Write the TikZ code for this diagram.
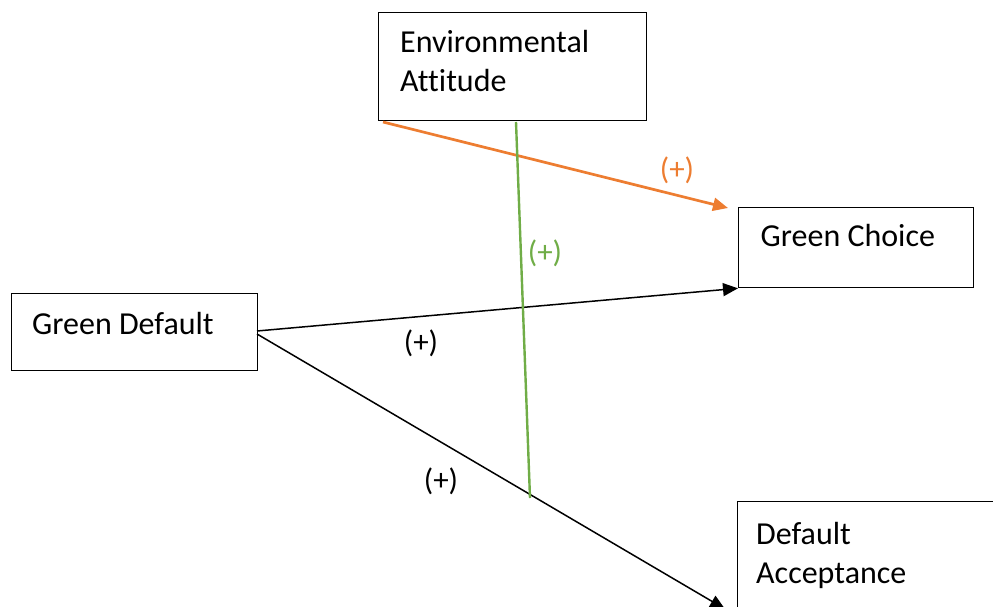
\documentclass[tikz,border=0pt]{standalone}
\usepackage{fontspec}
\setmainfont{Carlito}[Ligatures=CommonOff]
\usetikzlibrary{arrows.meta}
\definecolor{orng}{HTML}{ED7D31}
\definecolor{grn}{HTML}{70AD47}
\begin{document}
\begin{tikzpicture}[x=1pt,y=-1pt,
  box/.style={draw=black, line width=1.3pt, anchor=north west, inner sep=0pt},
  txt/.style={anchor=base west, inner sep=0pt, font=\fontsize{32}{39}\selectfont},
  lbl/.style={inner sep=0pt, font=\fontsize{31}{36}\selectfont},
  arr/.style={-{Triangle[length=15pt,width=13pt]}},
]
\useasboundingbox (0,0) rectangle (993,607);
% boxes
\node[box, minimum width=268pt, minimum height=108pt] (ea) at (378,12) {};
\node[box, minimum width=235pt, minimum height=80pt] (gc) at (738,207) {};
\node[box, minimum width=246pt, minimum height=77pt] (gd) at (11,293) {};
\node[box, minimum width=280pt, minimum height=140pt] (da) at (737,501) {};
% texts
\node[txt] (ea1) at (400,52.7) {Environmental};
\node[txt] (ea2) at (400,91.7) {Attitude};
\node[txt] (gct) at (760.5,246.7) {Green Choice};
\node[txt] (gdt) at (32,334.3) {Green Default};
\node[txt] (da1) at (756,544) {Default};
\node[txt] (da2) at (756,583) {Acceptance};
% connectors
\coordinate (gdo1) at (257,331);
\coordinate (gdo2) at (257,334);
\coordinate (datip) at (725,609);
\coordinate (eao) at (383,122);
\coordinate (gctip) at (728,208);
\coordinate (gtop) at (516,122);
\coordinate (gbot) at (530,498);
\draw[arr, line width=1.5pt] (gdo1) -- (gc.south west);
\draw[arr, line width=1.5pt] (gdo2) -- (datip);
\draw[arr, draw=orng, fill=orng, line width=2.7pt] (eao) -- (gctip);
\draw[grn, line width=2.4pt] (gtop) -- (gbot);
% labels
\node[lbl] (l1) at (421,343) {(+)};
\node[lbl] (l2) at (441,481) {(+)};
\node[lbl, text=orng] (l3) at (677,170) {(+)};
\node[lbl, text=grn] (l4) at (545,253) {(+)};
\end{tikzpicture}
\end{document}
